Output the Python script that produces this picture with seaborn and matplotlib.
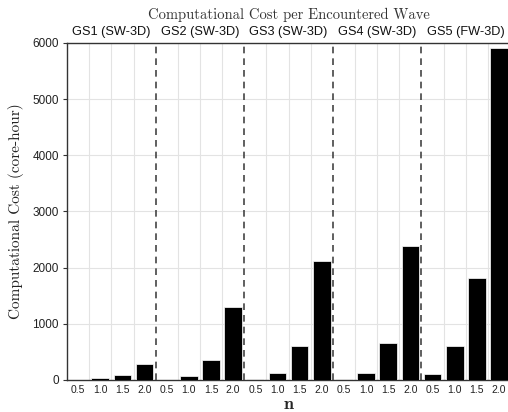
import matplotlib
matplotlib.use("Agg")
import matplotlib.pyplot as plt
import seaborn as sns
import pandas as pd

groups = ["GS1 (SW-3D)", "GS2 (SW-3D)", "GS3 (SW-3D)", "GS4 (SW-3D)", "GS5 (FW-3D)"]
n_labels = ["0.5", "1.0", "1.5", "2.0"]
gs1 = [5, 25, 95, 285]
gs2 = [5, 75, 345, 1300]
gs3 = [10, 120, 610, 2110]
gs4 = [10, 130, 660, 2375]
gs5 = [110, 605, 1810, 5900]
yticks = [0, 1000, 2000, 3000, 4000, 5000, 6000]

rows = []
for g, vals in zip(groups, [gs1, gs2, gs3, gs4, gs5]):
    for n, v in zip(n_labels, vals):
        rows.append({"group": g, "n": n, "key": f"{g}|{n}", "cost": v})
df = pd.DataFrame(rows)

sns.set_style("white")
plt.rcParams["mathtext.fontset"] = "cm"
fig = plt.figure(figsize=(5.08, 4.12), dpi=100)
ax = fig.add_axes([0.132, 0.078, 0.872, 0.818])

sns.barplot(data=df, x="key", y="cost", order=list(df["key"]), color="black",
            saturation=1, width=0.8, edgecolor="white", linewidth=0.5, ax=ax, zorder=3)

nb = len(df)
ax.set_xlim(-0.5, nb - 0.5)
ax.set_ylim(0, 6000)
ax.set_yticks(yticks)
ax.set_yticklabels([str(t) for t in yticks], fontsize=8.5, family="Liberation Sans", color="#222222")
ax.set_xticks(range(nb))
ax.set_xticklabels(list(df["n"]), fontsize=7.5, family="Liberation Sans", color="#222222")

# grid
for yv in yticks[1:]:
    ax.axhline(yv, color="#e3e3e3", lw=0.8, zorder=0)
for i in range(1, nb):
    if i % 4 == 0:
        ax.axvline(i - 0.5, color="#444444", lw=1.2, ls=(0, (4, 3)), zorder=4)
    else:
        ax.axvline(i - 0.5, color="#e3e3e3", lw=0.8, zorder=0)

for s in ["left", "bottom", "top"]:
    ax.spines[s].set_visible(True)
    ax.spines[s].set_color("#333333")
    ax.spines[s].set_linewidth(1.0)
ax.spines["right"].set_visible(False)
ax.tick_params(axis="y", length=3, width=0.8, color="#333333", pad=3, left=True)
ax.tick_params(axis="x", length=0, pad=4)

# group labels
for gi, g in enumerate(groups):
    ax.text(gi * 4 + 1.5, 6080, g, ha="center", va="bottom", fontsize=9.2,
            family="Liberation Sans", color="#111111")

fig.text(0.568, 0.965, "Computational Cost per Encountered Wave", ha="center", va="center",
         fontsize=10.5, family="cmr10", color="#333333")
ax.set_ylabel("Computational Cost (core-hour)", fontsize=11, family="cmr10", color="#222222", labelpad=6)
ax.set_xlabel(r"$\mathbf{n}$", fontsize=13, labelpad=0)

fig.savefig("out.png", dpi=100)
